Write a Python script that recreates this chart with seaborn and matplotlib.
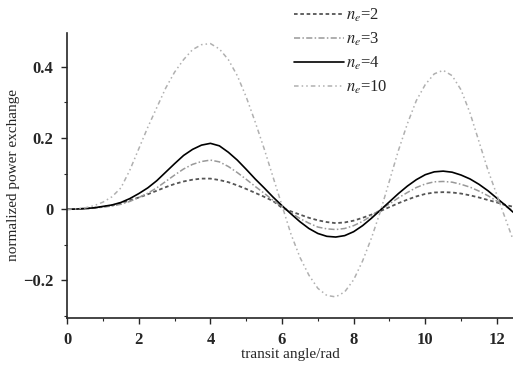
import numpy as np
import pandas as pd
import matplotlib
matplotlib.use('Agg')
import matplotlib.pyplot as plt
import seaborn as sns
from matplotlib.ticker import MultipleLocator

# transit angle samples (rad)
theta = [0, 0.25, 0.5, 0.75, 1, 1.25, 1.5, 1.75, 2, 2.25, 2.5, 2.75, 3, 3.25, 3.5, 3.75,
         4, 4.25, 4.5, 4.75, 5, 5.25, 5.5, 5.75, 6, 6.25, 6.5, 6.75, 7, 7.25, 7.5, 7.75,
         8, 8.25, 8.5, 8.75, 9, 9.25, 9.5, 9.75, 10, 10.25, 10.5, 10.75, 11, 11.25, 11.5, 11.75,
         12, 12.25, 12.45]

# normalized power exchange
p_n2 = [0, 0.0005, 0.002, 0.004, 0.007, 0.011, 0.017, 0.025, 0.033, 0.042, 0.052, 0.062,
        0.071, 0.078, 0.083, 0.086, 0.086, 0.082, 0.076, 0.067, 0.057, 0.046, 0.035, 0.023,
        0.004, -0.006, -0.015, -0.024, -0.031, -0.036, -0.039, -0.037, -0.032, -0.024, -0.015,
        -0.005, 0.006, 0.017, 0.027, 0.036, 0.043, 0.047, 0.048, 0.047, 0.044, 0.039, 0.033,
        0.026, 0.019, 0.012, 0.007]
p_n3 = [0, 0.0004, 0.0015, 0.003, 0.006, 0.009, 0.014, 0.022, 0.033, 0.045, 0.06, 0.078,
        0.096, 0.113, 0.126, 0.134, 0.138, 0.133, 0.12, 0.103, 0.084, 0.064, 0.045, 0.025,
        0.007, -0.01, -0.026, -0.039, -0.05, -0.055, -0.057, -0.054, -0.046, -0.034, -0.018,
        -0.001, 0.015, 0.032, 0.047, 0.061, 0.071, 0.077, 0.078, 0.076, 0.07, 0.062, 0.051,
        0.038, 0.023, 0.008, -0.004]
p_n4 = [0, 0.0005, 0.002, 0.004, 0.008, 0.012, 0.019, 0.03, 0.044, 0.06, 0.08, 0.104,
        0.128, 0.151, 0.168, 0.18, 0.185, 0.178, 0.16, 0.138, 0.112, 0.085, 0.06, 0.034,
        0.01, -0.013, -0.035, -0.054, -0.068, -0.076, -0.078, -0.074, -0.063, -0.046, -0.025,
        -0.002, 0.021, 0.044, 0.065, 0.083, 0.097, 0.105, 0.107, 0.104, 0.096, 0.085, 0.07,
        0.052, 0.031, 0.01, -0.008]
p_n10 = [0, 0.001, 0.004, 0.01, 0.02, 0.035, 0.06, 0.11, 0.17, 0.23, 0.285, 0.34,
         0.385, 0.42, 0.448, 0.462, 0.465, 0.45, 0.42, 0.375, 0.315, 0.245, 0.17, 0.09,
         0.01, -0.07, -0.135, -0.185, -0.222, -0.242, -0.246, -0.232, -0.198, -0.145, -0.08,
         -0.005, 0.08, 0.165, 0.24, 0.305, 0.35, 0.38, 0.39, 0.375, 0.335, 0.27, 0.19,
         0.11, 0.04, -0.03, -0.085]

labels = [r'$n_e$=2', r'$n_e$=3', r'$n_e$=4', r'$n_e$=10']

sns.set_style('ticks')
plt.rcParams['font.family'] = ['Liberation Serif', 'DejaVu Serif']
plt.rcParams['mathtext.fontset'] = 'stix'

fig = plt.figure(figsize=(5.13, 3.74), dpi=100)
ax = fig.add_axes([0.131, 0.150, 0.869, 0.762])

styles = [
    dict(color='#555555', linestyle=(0, (2, 1.5)), linewidth=1.3),
    dict(color='#999999', linestyle=(0, (4, 1.5, 1, 1.5)), linewidth=1.1),
    dict(color='black', linestyle='-', linewidth=1.2),
    dict(color='#b0b0b0', linestyle=(0, (3, 2, 1, 2, 1, 2)), linewidth=1.1),
]

for y, lab, st in zip([p_n2, p_n3, p_n4, p_n10], labels, styles):
    df = pd.DataFrame({'theta': theta, 'p': y})
    sns.lineplot(data=df, x='theta', y='p', ax=ax, label=lab, **st)

ax.set_xlim(0, 12.45)
ax.set_ylim(-0.305, 0.495)
ax.set_xticks([0, 2, 4, 6, 8, 10, 12])
ax.set_xticklabels(['0', '2', '4', '6', '8', '10', '12'])
ax.set_yticks([-0.2, 0, 0.2, 0.4])
ax.set_yticklabels(['\u22120.2', '0', '0.2', '0.4'])
ax.xaxis.set_minor_locator(MultipleLocator(1))
ax.yaxis.set_minor_locator(MultipleLocator(0.1))
ax.tick_params(which='major', direction='out', length=4, width=1, labelsize=12, pad=6)
ax.tick_params(which='minor', direction='out', length=2, width=0.8)
for t in ax.get_xticklabels() + ax.get_yticklabels():
    t.set_fontweight('bold')

sns.despine(ax=ax)
ax.spines['left'].set_linewidth(1.2)
ax.spines['bottom'].set_linewidth(1.2)

ax.set_xlabel('transit angle/rad', fontsize=11, labelpad=0)
ax.set_ylabel('normalized power exchange', fontsize=11, labelpad=2)

ax.legend(loc='upper left', bbox_to_anchor=(0.56, 1.0), bbox_transform=fig.transFigure,
          frameon=False, fontsize=12, handlelength=3.0, handletextpad=0.1,
          labelspacing=0.4, borderaxespad=0)

fig.savefig('out.png', dpi=100)
